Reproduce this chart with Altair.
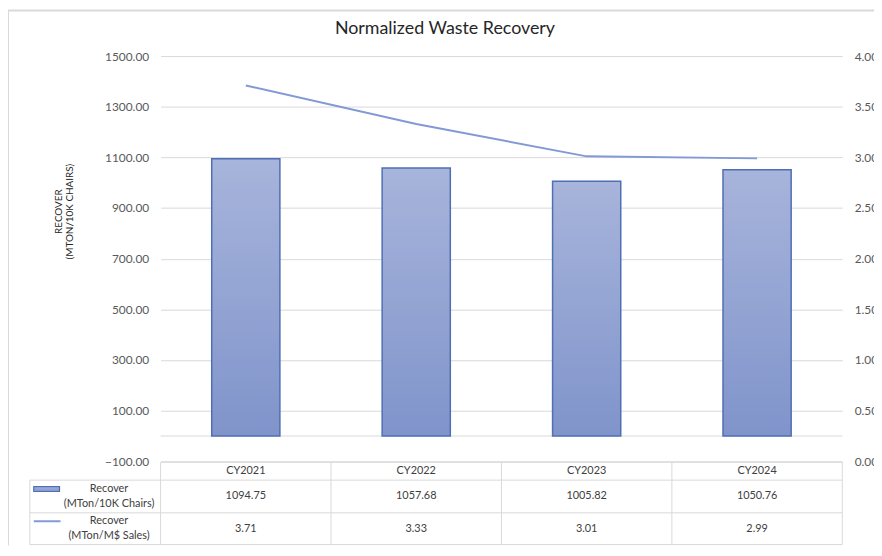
import altair as alt
import pandas as pd

# ---------------- data ----------------
categories = ["CY2021", "CY2022", "CY2023", "CY2024"]
recover_chairs = [1094.75, 1057.68, 1005.82, 1050.76]
recover_sales = [3.71, 3.33, 3.01, 2.99]
left_ticks = [-100, 100, 300, 500, 700, 900, 1100, 1300, 1500]
right_ticks = [0.0, 0.5, 1.0, 1.5, 2.0, 2.5, 3.0, 3.5, 4.0]
series_bar = ["Recover", "(MTon/10K Chairs)"]
series_line = ["Recover", "(MTon/M$ Sales)"]
title_text = "Normalized Waste Recovery"
y_title = ["RECOVER", "(MTON/10K CHAIRS)"]

df = pd.DataFrame({"cat": categories, "chairs": recover_chairs, "sales": recover_sales})
df["chairs_lbl"] = [f"{v:.2f}" for v in recover_chairs]
df["sales_lbl"] = [f"{v:.2f}" for v in recover_sales]
one = pd.DataFrame({"z": [0]})

# ---------------- style ----------------
FONT = "Lato"
W, H = 688, 409
GRID = "#d9d9d9"
BAR_EDGE = "#4f6fb4"
LINE_C = "#8299d6"
TXT = "#404040"
LBL = "#595959"

grad = alt.LinearGradient(
    gradient="linear",
    stops=[alt.GradientStop(color="#a7b4db", offset=0),
           alt.GradientStop(color="#8094cb", offset=1)],
    x1=0, x2=0, y1=0, y2=1,
)

xscale = alt.Scale(domain=categories, paddingInner=0, paddingOuter=0)
xenc = alt.X("cat:N", scale=xscale, axis=None)

base = alt.Chart(df)

zero_rule = alt.Chart(one).mark_rule(color=GRID, strokeWidth=1).encode(
    y=alt.Y("z:Q"), x=alt.value(0), x2=alt.value(W)
)

bars = base.mark_bar(width=alt.RelativeBandSize(0.4), fill=grad,
                     stroke=BAR_EDGE, strokeWidth=1.5).encode(
    x=xenc,
    y=alt.Y("chairs:Q",
            scale=alt.Scale(domain=[-100, 1500], nice=False),
            axis=alt.Axis(values=left_ticks, format=".2f", grid=True,
                          gridColor=GRID, gridWidth=1, domain=False,
                          ticks=False, labelPadding=12, labelColor=LBL,
                          labelFont=FONT, labelFontSize=12, title=None)),
    y2=alt.datum(0),
)

left = alt.layer(zero_rule, bars)

line = base.mark_line(color=LINE_C, strokeWidth=2).encode(
    x=xenc,
    y=alt.Y("sales:Q",
            scale=alt.Scale(domain=[0, 4], nice=False),
            axis=alt.Axis(orient="right", values=right_ticks, format=".2f",
                          grid=False, domain=False, ticks=False,
                          labelPadding=12, labelColor=LBL, labelFont=FONT,
                          labelFontSize=12, title=None)),
)

# ---------------- data table ----------------
T_TOP, R1, R2, T_BOT = 410, 428, 461, 493
LEG_L = -132
txt_kw = dict(font=FONT, fontSize=11, color=TXT, align="center", baseline="middle")

hdr = base.mark_text(**txt_kw).encode(x=xenc, y=alt.value((T_TOP + R1) / 2), text="cat:N")
row1 = base.mark_text(**txt_kw).encode(x=xenc, y=alt.value((R1 + R2) / 2), text="chairs_lbl:N")
row2 = base.mark_text(**txt_kw).encode(x=xenc, y=alt.value((R2 + T_BOT) / 2), text="sales_lbl:N")

vlines = base.mark_rule(color=GRID, strokeWidth=1).encode(
    x=alt.X("cat:N", bandPosition=0, scale=xscale, axis=None),
    y=alt.value(T_TOP), y2=alt.value(T_BOT),
)
vright = alt.Chart(one).mark_rule(color=GRID).encode(
    x=alt.value(W), y=alt.value(T_TOP), y2=alt.value(T_BOT))
vleft = alt.Chart(one).mark_rule(color=GRID).encode(
    x=alt.value(LEG_L), y=alt.value(R1), y2=alt.value(T_BOT))
htop = alt.Chart(one).mark_rule(color=GRID).encode(
    x=alt.value(0), x2=alt.value(W), y=alt.value(T_TOP))
hlines = [alt.Chart(one).mark_rule(color=GRID).encode(
    x=alt.value(LEG_L), x2=alt.value(W), y=alt.value(yy)) for yy in (R1, R2, T_BOT)]

c1 = (R1 + R2) / 2
c2 = (R2 + T_BOT) / 2
sw_bar = alt.Chart(one).mark_rect(fill=grad, stroke=BAR_EDGE, strokeWidth=1.2).encode(
    x=alt.value(LEG_L + 4), x2=alt.value(LEG_L + 30),
    y=alt.value(c1 - 10), y2=alt.value(c1 - 5))
sw_line = alt.Chart(one).mark_rule(color=LINE_C, strokeWidth=2).encode(
    x=alt.value(LEG_L + 4), x2=alt.value(LEG_L + 31), y=alt.value(c2 - 7.5))

leg_texts = []
for lines, c in ((series_bar, c1), (series_line, c2)):
    for i, t in enumerate(lines):
        leg_texts.append(alt.Chart(one).mark_text(text=t, **txt_kw).encode(
            x=alt.value(-52), y=alt.value(c - 7.5 + 15 * i)))

# ---------------- titles & frame ----------------
title = alt.Chart(one).mark_text(text=title_text, font=FONT, fontSize=18,
                                 color="#262626", align="center",
                                 baseline="middle").encode(
    x=alt.value(287), y=alt.value(-27))
ytitles = [alt.Chart(one).mark_text(text=t, font=FONT, fontSize=10, color="#262626",
                                    angle=270, align="center", baseline="middle").encode(
    x=alt.value(xx), y=alt.value(157)) for t, xx in zip(y_title, (-103, -91))]

frame_top = alt.Chart(one).mark_rule(color=GRID, strokeWidth=2).encode(
    x=alt.value(-154), x2=alt.value(720), y=alt.value(-46))
frame_left = alt.Chart(one).mark_rule(color=GRID, strokeWidth=2).encode(
    x=alt.value(-154), y=alt.value(-46), y2=alt.value(494))

chart = alt.layer(
    left, line,
    htop, *hlines, vlines, vright, vleft,
    hdr, row1, row2, sw_bar, sw_line, *leg_texts,
    title, *ytitles, frame_top, frame_left,
).resolve_scale(y="independent").properties(
    width=W, height=H,
    autosize=alt.AutoSizeParams(type="none"),
    padding={"left": 154, "top": 46, "right": 32, "bottom": 85},
).configure_view(stroke=None)

chart.save("out.html", embed_options={"renderer": "svg", "actions": False})
